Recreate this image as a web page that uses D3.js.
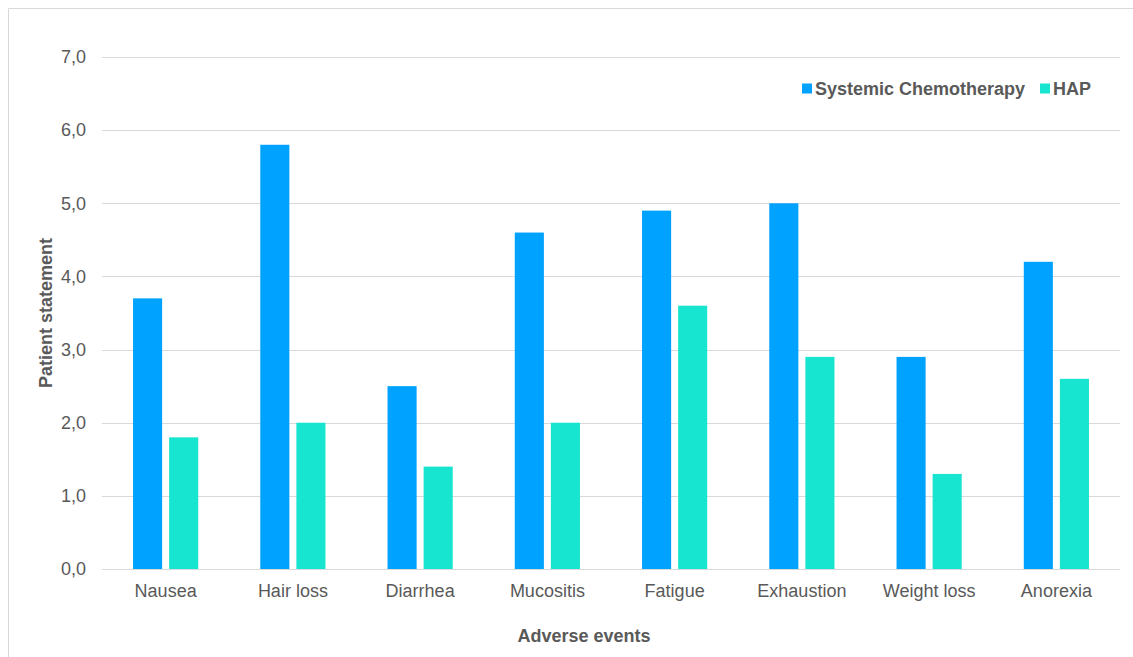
<!DOCTYPE html>
<html>
<head>
<meta charset="utf-8">
<script src="https://cdn.jsdelivr.net/npm/d3@7"></script>
<style>
  html, body { margin: 0; padding: 0; background: #fff; }
  svg { display: block; font-family: "Liberation Sans", Arial, Helvetica, sans-serif; }
</style>
</head>
<body>
<svg id="chart" width="1133" height="657"></svg>
<script>
const categories = ["Nausea", "Hair loss", "Diarrhea", "Mucositis", "Fatigue", "Exhaustion", "Weight loss", "Anorexia"];
const seriesNames = ["Systemic Chemotherapy", "HAP"];
const chemoValues = [3.7, 5.8, 2.5, 4.6, 4.9, 5.0, 2.9, 4.2];
const hapValues = [1.8, 2.0, 1.4, 2.0, 3.6, 2.9, 1.3, 2.6];
const yTicks = [0, 1, 2, 3, 4, 5, 6, 7];
const colors = ["#00A2FF", "#17E5CF"];

const svg = d3.select("#chart");
const W = 1133, H = 657;
const m = { left: 102, right: 13, top: 57, bottom: 88 };
const textColor = "#595959";
const fontSize = 18;

// outer frame (top and left edges)
svg.append("path")
  .attr("d", `M8.5,${H} V8.5 H${W}`)
  .attr("fill", "none").attr("stroke", "#d9d9d9").attr("stroke-width", 1);

const x = d3.scaleBand().domain(categories).range([m.left, W - m.right]).paddingInner(0).paddingOuter(0);
const y = d3.scaleLinear().domain([0, 7]).range([H - m.bottom, m.top]);
const x1 = d3.scaleBand().domain(seriesNames).range([0, x.bandwidth()]).paddingInner(0.194).paddingOuter(0.86);

// gridlines
svg.append("g").selectAll("line").data(yTicks).join("line")
  .attr("x1", m.left).attr("x2", W - m.right)
  .attr("y1", d => Math.round(y(d)) + 0.5).attr("y2", d => Math.round(y(d)) + 0.5)
  .attr("stroke", "#d9d9d9").attr("stroke-width", 1);

// y axis labels
const yAxis = d3.axisLeft(y).tickValues(yTicks).tickSize(0).tickPadding(16)
  .tickFormat(d => d3.format(".1f")(d).replace(".", ","));
svg.append("g").attr("transform", `translate(${m.left},0)`).call(yAxis)
  .call(g => g.select(".domain").remove())
  .selectAll("text").attr("fill", textColor).attr("font-size", fontSize)
  .attr("font-family", "Liberation Sans, Arial, sans-serif");

// bars
const rows = categories.map((c, i) => ({ cat: c, vals: [chemoValues[i], hapValues[i]] }));
const groups = svg.append("g").selectAll("g").data(rows).join("g")
  .attr("transform", d => `translate(${x(d.cat)},0)`);
groups.selectAll("rect").data(d => d.vals.map((v, j) => ({ name: seriesNames[j], v, j })))
  .join("rect")
  .attr("x", d => x1(d.name))
  .attr("width", x1.bandwidth())
  .attr("y", d => y(d.v))
  .attr("height", d => y(0) - y(d.v))
  .attr("fill", d => colors[d.j]);

// x axis labels
const xAxis = d3.axisBottom(x).tickSize(0).tickPadding(15);
svg.append("g").attr("transform", `translate(0,${y(0)})`).call(xAxis)
  .call(g => g.select(".domain").remove())
  .selectAll("text").attr("fill", textColor).attr("font-size", fontSize)
  .attr("font-family", "Liberation Sans, Arial, sans-serif");

// axis titles
svg.append("text").attr("x", (m.left + W - m.right) / 2 - 27).attr("y", 642)
  .attr("text-anchor", "middle").attr("font-size", fontSize).attr("font-weight", "bold")
  .attr("fill", textColor).text("Adverse events");
svg.append("text").attr("transform", `translate(52,${(y(0) + y(7)) / 2}) rotate(-90)`)
  .attr("text-anchor", "middle").attr("font-size", fontSize).attr("font-weight", "bold")
  .attr("fill", textColor).text("Patient statement");

// legend
const legend = svg.append("g").attr("transform", "translate(802,83)");
const items = [{ name: seriesNames[0], dx: 0 }, { name: seriesNames[1], dx: 238 }];
items.forEach((it, i) => {
  const g = legend.append("g").attr("transform", `translate(${it.dx},0)`);
  g.append("rect").attr("width", 10).attr("height", 10).attr("y", 0.5).attr("fill", colors[i]);
  g.append("text").attr("x", 13).attr("y", 11.5).attr("font-size", fontSize).attr("font-weight", "bold")
    .attr("fill", textColor).text(it.name);
});
</script>
</body>
</html>
